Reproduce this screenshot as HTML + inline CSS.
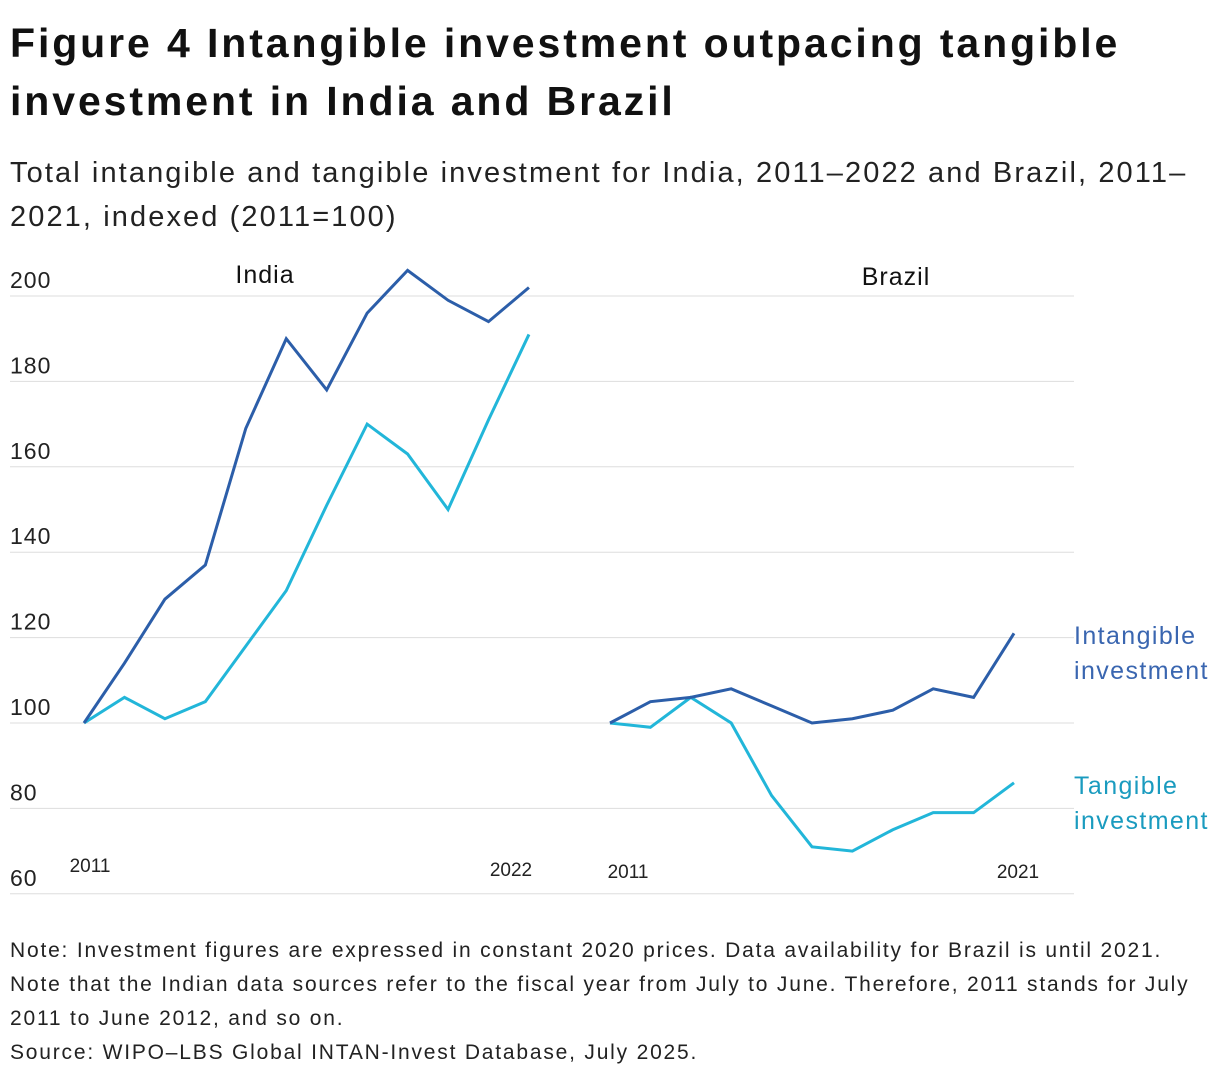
<!DOCTYPE html>
<html><head><meta charset="utf-8"><style>
body{margin:0;background:#fff;width:1220px;height:1082px;overflow:hidden;font-family:"Liberation Sans",sans-serif;color:#111}
h1{position:absolute;left:10px;top:14px;margin:0;font-size:41px;line-height:58px;font-weight:bold;width:1210px;letter-spacing:2.9px;white-space:nowrap}
.sub{position:absolute;left:10px;top:151px;font-size:29px;line-height:44px;color:#222;letter-spacing:2.1px;white-space:nowrap}
.note{position:absolute;left:10px;top:934px;font-size:21px;line-height:34px;color:#222;letter-spacing:1.8px;white-space:nowrap}
svg{position:absolute;left:0;top:0}
</style></head><body>
<h1>Figure 4 Intangible investment outpacing tangible<br>investment in India and Brazil</h1>
<div class="sub">Total intangible and tangible investment for India, 2011–2022 and Brazil, 2011–<br>2021, indexed (2011=100)</div>
<svg id="chart" width="1220" height="1082"></svg>
<div class="note">Note: Investment figures are expressed in constant 2020 prices. Data availability for Brazil is until 2021.<br>Note that the Indian data sources refer to the fiscal year from July to June. Therefore, 2011 stands for July<br>2011 to June 2012, and so on.<br>Source: WIPO–LBS Global INTAN-Invest Database, July 2025.</div>
<script>
const yTicks=[60,80,100,120,140,160,180,200];
const indiaIntangible=[100,114,129,137,169,190,178,196,206,199,194,202];
const indiaTangible=[100,106,101,105,118,131,151,170,163,150,171,191];
const brazilIntangible=[100,105,106,108,104,100,101,103,108,106,121];
const brazilTangible=[100,99,106,100,83,71,70,75,79,79,86];
const svg=document.getElementById('chart');
const NS='http://www.w3.org/2000/svg';
function y(v){return 723-(v-100)*4.27;}
function xI(i){return 84+i*40.45;}
function xB(i){return 610+i*40.4;}
function mk(t,a){const e=document.createElementNS(NS,t);for(const k in a)e.setAttribute(k,a[k]);svg.appendChild(e);return e;}
function txt(x,yy,s,size,fill,anchor,ls){const e=mk('text',{x:x,y:yy,'font-size':size,fill:fill,'text-anchor':anchor||'start','font-family':'Liberation Sans, sans-serif','letter-spacing':ls||0});e.textContent=s;return e;}
yTicks.forEach(v=>{
  const l=mk('line',{x1:10,x2:1074,y1:y(v),y2:y(v),stroke:'#dddddd','stroke-width':1});
  
  
  const t=txt(10,y(v)-8,String(v),23,'#222','start',1);
  
  
});
function line(arr,xf,color,name){
  const p=mk('polyline',{points:arr.map((v,i)=>xf(i)+','+y(v)).join(' '),fill:'none',stroke:color,'stroke-width':3,'stroke-linejoin':'miter'});
  
  
}
line(indiaTangible,xI,'#22b6d9','india-tangible-line');
line(indiaIntangible,xI,'#2c5ea9','india-intangible-line');
line(brazilTangible,xB,'#22b6d9','brazil-tangible-line');
line(brazilIntangible,xB,'#2c5ea9','brazil-intangible-line');
[[265,283,'India','panel-title-india'],[896,285,'Brazil','panel-title-brazil']].forEach(a=>{const t=txt(a[0],a[1],a[2],25,'#111','middle',1);});
[[90,872,'2011','x-tick-india-start'],[511,876,'2022','x-tick-india-end'],[628,878,'2011','x-tick-brazil-start'],[1018,878,'2021','x-tick-brazil-end']].forEach(a=>{const t=txt(a[0],a[1],a[2],19,'#222','middle');});
[[644,'Intangible','#3a66b0'],[679,'investment','#3a66b0'],[794,'Tangible','#1a9bbf'],[829,'investment','#1a9bbf']].forEach((a,i)=>{const t=txt(1074,a[0],a[1],25,a[2],'start',1.4);});
</script>
</body></html>
